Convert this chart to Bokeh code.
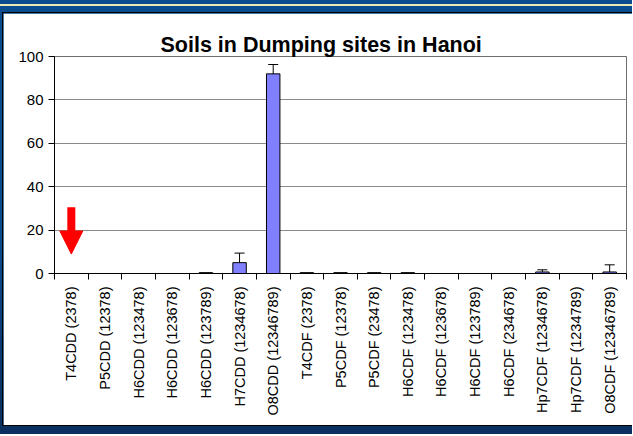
import math
from bokeh.plotting import figure
from bokeh.layouts import column
from bokeh.models import (ColumnDataSource, FixedTicker, Whisker, TeeHead, Arrow,
                          NormalHead, Range1d)
from bokeh.embed import file_html
from bokeh.resources import INLINE

title_text = "Soils in Dumping sites in Hanoi"
categories = ["T4CDD (2378)", "P5CDD (12378)", "H6CDD (123478)", "H6CDD (123678)",
              "H6CDD (123789)", "H7CDD (1234678)", "O8CDD (12346789)", "T4CDF (2378)",
              "P5CDF (12378)", "P5CDF (23478)", "H6CDF (123478)", "H6CDF (123678)",
              "H6CDF (123789)", "H6CDF (234678)", "Hp7CDF (1234678)", "Hp7CDF (1234789)",
              "O8CDF (12346789)"]
values = [0, 0, 0, 0, 0.4, 5.0, 92.0, 0.4, 0.4, 0.4, 0.4, 0, 0, 0, 0.7, 0, 0.7]
errors = [0, 0, 0, 0, 0, 4.4, 4.3, 0, 0, 0, 0, 0, 0, 0, 1.0, 0, 3.3]
y_ticks = [0, 20, 40, 60, 80, 100]
arrow_category = 0
arrow_from = 30.5
arrow_to = 9.0

n = len(categories)
xs = list(range(n))

p = figure(width=630, height=414, output_backend="svg", toolbar_location=None,
           x_range=Range1d(-0.5, n - 0.5), y_range=Range1d(0, 100),
           min_border_left=51, min_border_right=7, min_border_top=43,
           min_border_bottom=154, background_fill_color="white",
           border_fill_color="white", outline_line_color="#6e6e6e",
           title=title_text)
p.styles = {"border-top": "1px solid black", "border-left": "1px solid black",
            "border-bottom": "1px solid black"}

p.title.align = "left"
p.title.offset = 106
p.title.standoff = 0
p.title.text_font = "Liberation Sans"
p.title.text_font_size = "21.5px"
p.title.text_font_style = "bold"
p.title.text_color = "black"

# y axis
p.yaxis.ticker = FixedTicker(ticks=y_ticks)
p.yaxis.axis_line_color = "black"
p.yaxis.major_tick_line_color = "black"
p.yaxis.major_tick_out = 6
p.yaxis.major_tick_in = 0
p.yaxis.minor_tick_line_color = None
p.yaxis.major_label_standoff = 5
p.yaxis.major_label_text_font = "Liberation Sans"
p.yaxis.major_label_text_font_size = "15px"
p.yaxis.major_label_text_color = "black"

# x axis
p.xaxis.ticker = FixedTicker(ticks=xs, minor_ticks=[i - 0.5 for i in range(n + 1)])
p.xaxis.major_label_overrides = {i: c for i, c in enumerate(categories)}
p.xaxis.major_label_orientation = math.pi / 2
p.xaxis.axis_line_color = "black"
p.xaxis.major_tick_out = 0
p.xaxis.major_tick_in = 0
p.xaxis.minor_tick_out = 6
p.xaxis.minor_tick_in = 0
p.xaxis.minor_tick_line_color = "black"
p.xaxis.major_label_standoff = 7
p.xaxis.major_label_text_font = "Liberation Sans"
p.xaxis.major_label_text_font_size = "14.5px"
p.xaxis.major_label_text_color = "black"

p.xgrid.grid_line_color = None
p.ygrid.grid_line_color = "#8a8a8a"
p.ygrid.grid_line_width = 1

p.vbar(x=xs, top=values, width=0.4, fill_color="#8080ff", line_color="black",
       line_width=1)

ex = [x for x, e in zip(xs, errors) if e > 0]
elo = [v for v, e in zip(values, errors) if e > 0]
ehi = [v + e for v, e in zip(values, errors) if e > 0]
esrc = ColumnDataSource(data=dict(x=ex, lower=elo, upper=ehi))
p.add_layout(Whisker(source=esrc, base="x", lower="lower", upper="upper",
                     line_color="black", line_width=1,
                     upper_head=TeeHead(size=10, line_color="black", line_width=1),
                     lower_head=None, level="glyph"))

p.add_layout(Arrow(x_start=arrow_category, y_start=arrow_from,
                   x_end=arrow_category, y_end=arrow_to,
                   line_color="red", line_width=8,
                   end=NormalHead(size=23, fill_color="red", line_color="red",
                                  line_width=1)))

page = column(p, styles={
    "background": "linear-gradient(to bottom, #0b4c8e 0px, #0b4c8e 4px, #efe7b5 4px, "
                  "#efe7b5 6px, #0b4c8e 6px, #0b4c8e 55%, #0a2f5e 100%)",
    "padding": "12px 0px 8px 2px"})

open("out.html", "w").write(file_html(page, INLINE))
